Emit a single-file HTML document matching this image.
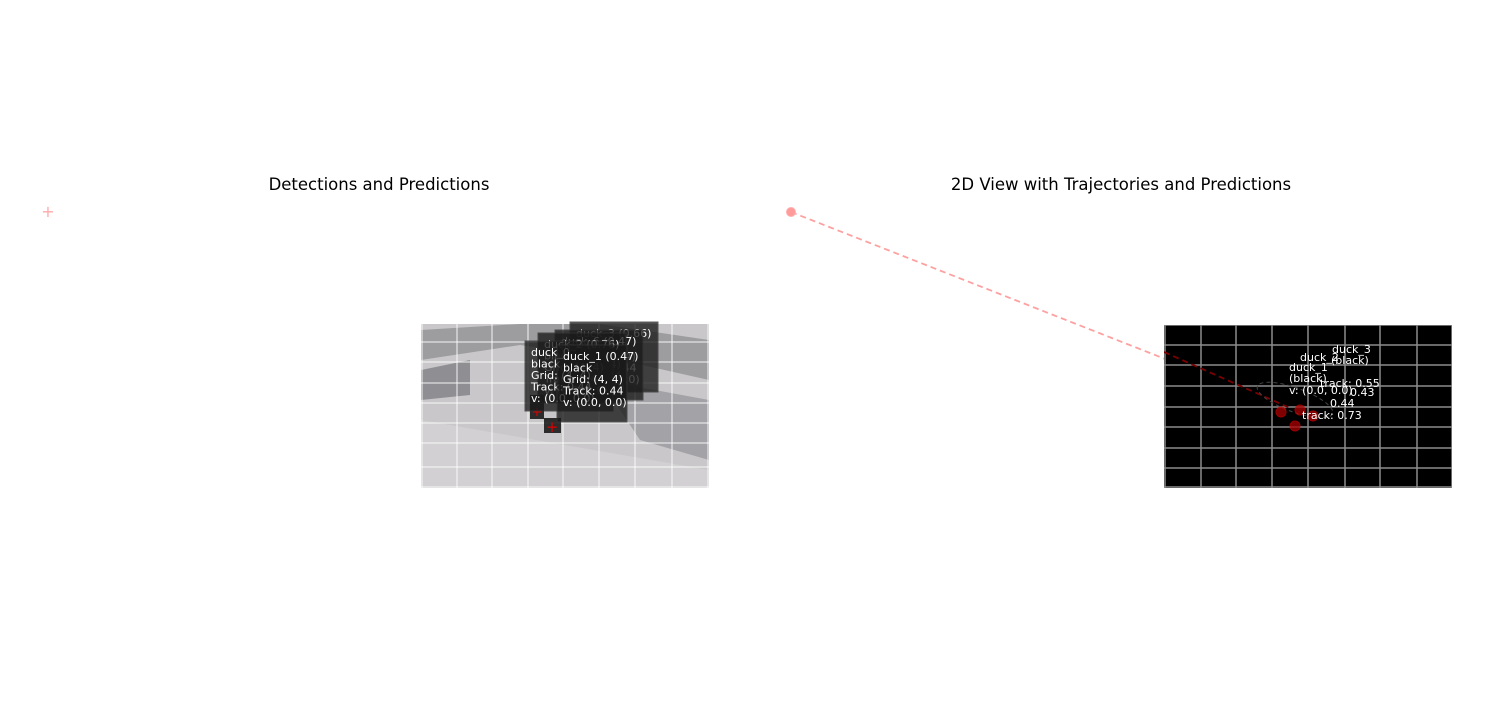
<!DOCTYPE html>
<html><head><meta charset="utf-8">
<style>
html,body{margin:0;padding:0;background:#fff;}
body{width:1500px;height:700px;overflow:hidden;font-family:"Liberation Sans","DejaVu Sans",sans-serif;}
svg text{font-family:"DejaVu Sans","Liberation Sans",sans-serif;}
</style></head>
<body>
<svg id="chart" width="1500" height="700" viewBox="0 0 1500 700">
  <defs>
    <clipPath id="clipL"><rect x="421" y="324" width="288" height="164"/></clipPath>
    <clipPath id="clipR"><rect x="1164" y="325" width="288" height="163"/></clipPath>
  </defs>
  <text x="379" y="190" font-size="16.5" text-anchor="middle" fill="#000">Detections and Predictions</text>
  <text x="1121" y="190" font-size="16.5" text-anchor="middle" fill="#000">2D View with Trajectories and Predictions</text>

  <g id="left" clip-path="url(#clipL)">
    <rect x="421" y="324" width="288" height="164" fill="#c9c7c9"/>
    <polygon points="421,330 520,324 600,324 709,340 709,380 620,360 520,345 421,360" fill="#9d9c9f"/>
    <polygon points="421,370 470,360 470,395 421,400" fill="#8f8e92"/>
    <polygon points="600,380 709,400 709,460 640,440" fill="#a3a2a6"/>
    <polygon points="421,420 709,470 709,488 421,488" fill="#d2d0d2"/>
    <g id="gridL"></g>
  </g>
  <g id="labelsL"></g>

  <line x1="791" y1="212" x2="1290" y2="408" stroke="#ffa0a0" stroke-width="1.8" stroke-dasharray="6,4"/>
  <circle cx="791" cy="212" r="4.5" fill="#ff9a9a" stroke="#ffb0b0"/>
  <text x="48" y="217" font-size="16" fill="#ffaaaa" text-anchor="middle">+</text>

  <g id="right" clip-path="url(#clipR)">
    <rect x="1164" y="325" width="288" height="163" fill="#000"/>
    <g id="gridR"></g>
    <line x1="1164" y1="352" x2="1290" y2="408" stroke="#7a0000" stroke-width="1.8" stroke-dasharray="6,4"/>
    <ellipse cx="1295" cy="400" rx="40" ry="12" fill="none" stroke="#444" stroke-dasharray="4,3" transform="rotate(20 1295 400)"/>
  </g>
  <g id="labelsR"></g>
</svg>
<script>
const gridXL=[422,457,492,528,563,599,635,672,708];
const gridYL=[323,342,362,383,403,423,443,467,487];
const gridXR=[1165,1201,1236,1272,1308,1345,1380,1417,1452];
const gridYR=[325,345,365,386,407,427,448,468,487];
const detNames=["duck_3 (0.66)","duck_6 (0.47)","duck_2 (0.76)","duck_0","duck_1 (0.47)"];
const detBoxX=[570,555,538,525,557];
const detBoxY=[322,330,333,341,345];
const mapX=[1281,1295,1300,1313];
const mapY=[412,426,410,416];
const mapLabels=["duck_3","(black)","duck_2","duck_1","(black)","v: (0.0, 0.0)","track: 0.55","0.43","0.44","track: 0.73"];
const mapLabelX=[1332,1331,1300,1289,1289,1289,1320,1350,1330,1302];
const mapLabelY=[353,364,361,371,382,394,387,396,407,419];
const NS="http://www.w3.org/2000/svg";
function mk(t,a,p){const e=document.createElementNS(NS,t);for(const k in a)e.setAttribute(k,a[k]);p.appendChild(e);return e;}
const gL=document.getElementById('gridL'),gR=document.getElementById('gridR');
gridXL.forEach(x=>{const l=mk('line',{x1:x,y1:324,x2:x,y2:488,stroke:'rgba(255,255,255,0.6)','stroke-width':1.5},gL);

});
gridYL.forEach(y=>{const l=mk('line',{x1:421,y1:y,x2:709,y2:y,stroke:'rgba(255,255,255,0.6)','stroke-width':1.5},gL);

});
gridXR.forEach(x=>{const l=mk('line',{x1:x,y1:325,x2:x,y2:488,stroke:'#8c8c8c','stroke-width':1.5},gR);

});
gridYR.forEach(y=>{const l=mk('line',{x1:1164,y1:y,x2:1452,y2:y,stroke:'#8c8c8c','stroke-width':1.5},gR);

});
const lL=document.getElementById('labelsL');
mk('rect',{x:530,y:395,width:14,height:24,fill:'#111',opacity:0.85},lL);
mk('rect',{x:544,y:418,width:17,height:15,fill:'#111',opacity:0.85},lL);
mk('text',{x:552,y:432,'font-size':15,fill:'#d00','text-anchor':'middle'},lL).textContent='+';
mk('text',{x:537,y:416,'font-size':13,fill:'#d00','text-anchor':'middle'},lL).textContent='+';
detNames.forEach((n,i)=>{
  const g=mk('g',{},lL);
  
  
  mk('rect',{x:detBoxX[i],y:detBoxY[i],width:i==4?70:88,height:i==4?77:70,fill:'#1a1a1a',opacity:0.78,stroke:'#333'},g);
  const lines=[n,'black','Grid: (4, 4)','Track: 0.44','v: (0.0, 0.0)'];
  lines.forEach((s,j)=>{mk('text',{x:detBoxX[i]+6,y:detBoxY[i]+15+j*11.5,'font-size':11,fill:'#fff'},g).textContent=s;});
});
const lR=document.getElementById('labelsR');
mapX.forEach((x,i)=>{const c=mk('circle',{cx:x,cy:mapY[i],r:5,fill:'#a00',opacity:0.75,stroke:'#c00','stroke-width':1},lR);

});
mapLabels.forEach((s,i)=>{const t=mk('text',{x:mapLabelX[i],y:mapLabelY[i],'font-size':11,fill:'#fff'},lR);t.textContent=s;

});
</script>
</body></html>
